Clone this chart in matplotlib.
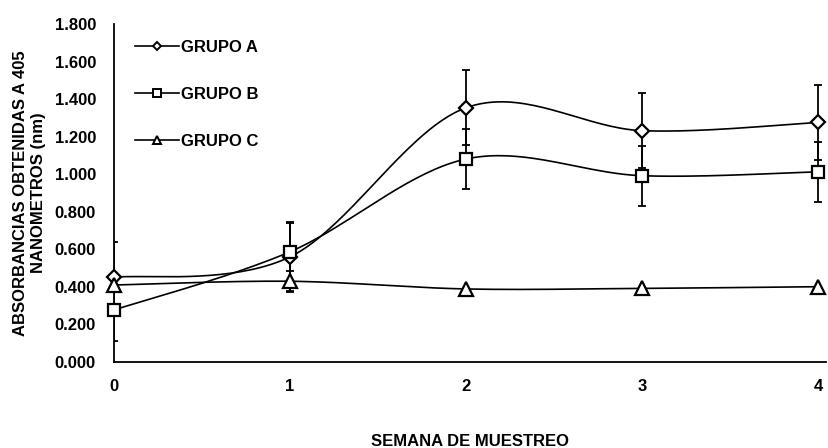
import numpy as np
import matplotlib
matplotlib.use("Agg")
import matplotlib.pyplot as plt
from matplotlib.lines import Line2D

weeks = [0, 1, 2, 3, 4]
grupo_a = [0.451, 0.560, 1.354, 1.232, 1.276]
grupo_b = [0.277, 0.587, 1.081, 0.992, 1.013]
grupo_c = [0.410, 0.430, 0.389, 0.392, 0.401]
err_a = [0.0, 0.18, 0.20, 0.20, 0.20]
err_b_low = [0.164, 0.16, 0.16, 0.16, 0.16]
err_b_high = [0.360, 0.16, 0.16, 0.16, 0.16]
err_c = [0.0, 0.055, 0.0, 0.0, 0.0]
labels = ["GRUPO A", "GRUPO B", "GRUPO C"]
yticks = [0.0, 0.2, 0.4, 0.6, 0.8, 1.0, 1.2, 1.4, 1.6, 1.8]

plt.rcParams['font.family'] = ['Liberation Sans', 'DejaVu Sans']
plt.rcParams['font.weight'] = 'bold'

fig = plt.figure(figsize=(8.29, 4.48), dpi=100)
ax = fig.add_axes([114/829, 1-362/448, (826-114)/829, (362-24)/448])


def smooth(xs, ys, n=40):
    # Excel-like smoothed line: cubic Bezier with Catmull-Rom control points
    p = np.column_stack([xs, ys]).astype(float)
    out = []
    for i in range(len(p)-1):
        p0 = p[max(i-1, 0)]
        p1 = p[i]
        p2 = p[i+1]
        p3 = p[min(i+2, len(p)-1)]
        c1 = p1 + (p2 - p0)/6
        c2 = p2 - (p3 - p1)/6
        t = np.linspace(0, 1, n)[:, None]
        seg = (1-t)**3*p1 + 3*(1-t)**2*t*c1 + 3*(1-t)*t**2*c2 + t**3*p2
        out.append(seg if i == 0 else seg[1:])
    s = np.vstack(out)
    return s[:, 0], s[:, 1]


series = [
    (grupo_a, [err_a, err_a], 'D', 7.5),
    (grupo_b, [err_b_low, err_b_high], 's', 8.5),
    (grupo_c, [err_c, err_c], '^', 9.5),
]
handles = []
for (vals, err, mk, ms), lab in zip(series, labels):
    ax.errorbar(weeks, vals, yerr=err, fmt='none', ecolor='black',
                elinewidth=1.3, capsize=3, capthick=1.3, zorder=2)
    sx, sy = smooth(weeks, vals)
    ax.plot(sx, sy, color='black', lw=1.2, zorder=3)
    ax.plot(weeks, vals, linestyle='none', marker=mk, markersize=ms,
            markerfacecolor='white', markeredgecolor='black',
            markeredgewidth=1.6, zorder=4, clip_on=False)
    handles.append(Line2D([], [], color='black', lw=1.2, marker=mk,
                          markersize=ms*0.6, markerfacecolor='white',
                          markeredgecolor='black', markeredgewidth=1.4))

ax.set_xlim(0, 4.045)
ax.set_ylim(0, 1.8)
ax.set_xticks(weeks)
ax.set_xticklabels([str(w) for w in weeks])
ax.set_yticks(yticks)
ax.set_yticklabels([f"{v:.3f}" for v in yticks])
ax.tick_params(axis='both', length=0, labelsize=12)
ax.tick_params(axis='y', pad=13)
ax.tick_params(axis='x', pad=12)
for s in ['top', 'right']:
    ax.spines[s].set_visible(False)
for s in ['left', 'bottom']:
    ax.spines[s].set_linewidth(1.3)

ax.set_xlabel("SEMANA DE MUESTREO", fontsize=12, fontweight='bold', labelpad=29)
ax.set_ylabel("ABSORBANCIAS OBTENIDAS A 405\nNANOMETROS (nm)", fontsize=12,
              fontweight='bold', labelpad=6, linespacing=1.3)

leg = fig.legend(handles, labels, loc='upper left',
                 bbox_to_anchor=(127/829, 1-32/448), frameon=False,
                 fontsize=12, handlelength=2.6, handletextpad=0.15,
                 labelspacing=1.9, borderpad=0)
for t in leg.get_texts():
    t.set_fontweight('bold')

fig.savefig("out.png", dpi=100)
